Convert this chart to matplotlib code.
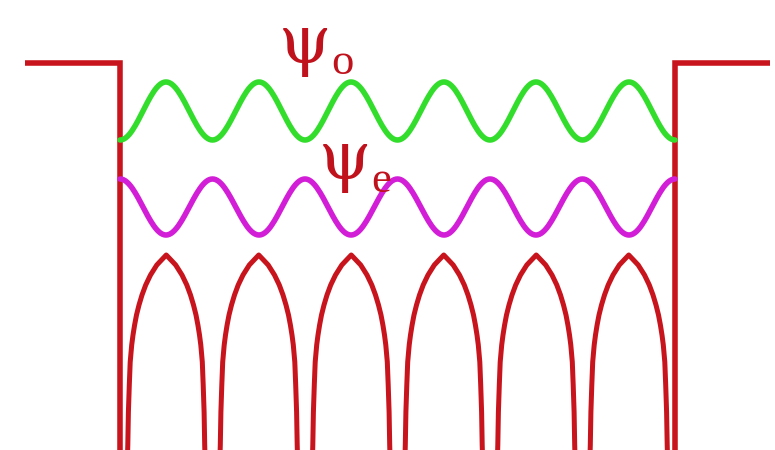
import numpy as np
import matplotlib
matplotlib.use("Agg")
import matplotlib.pyplot as plt

# ---- data (pixel-like units, y grows downward) ----
atom_x = [120, 212.5, 305, 397.5, 490, 582.5, 675]      # ion positions / well edges
barrier_left_x = [25, 120]
barrier_right_x = [675, 770]
barrier_y = 63
floor_y = 456

# odd wavefunction (green): extrema positions and values
psi_o_x = [120, 166, 212.5, 259, 305, 351, 397.5, 444, 490, 536, 582.5, 629, 675]
psi_o_y = [140, 82, 140, 82, 140, 82, 140, 82, 140, 82, 140, 82, 140]
# even wavefunction (magenta)
psi_e_x = [120, 166, 212.5, 259, 305, 351, 397.5, 444, 490, 536, 582.5, 629, 675]
psi_e_y = [179, 235, 179, 235, 179, 235, 179, 235, 179, 235, 179, 235, 179]

# periodic potential: profile of one arch side (distance from ion -> level)
arch_dist = [7.5, 7.8, 8.4, 9.3, 10.2, 11.7, 13.0, 14.6, 16.5, 19.0, 22.0, 25.7, 30.5, 36.8, 41.5]
arch_y = [456, 445, 412, 385, 362, 345, 335, 325, 315, 305, 295, 285, 275, 265, 260]
arch_peak_y = 255

labels = ["ψ", "ψ"]
subs = ["o", "e"]
label_pos = [(305, 44), (345, 160)]
sub_y = [63, 181]

RED = "#c8141c"
TXT = "#c0121c"
GREEN = "#33dd2c"
MAGENTA = "#d21ed6"
BG = "#fdf5fb"

fig = plt.figure(figsize=(7.75, 4.5), dpi=100, facecolor="white")
ax = fig.add_axes([8 / 775, 0, (770 - 8) / 775, 445 / 450], facecolor=BG)
ax.set_xlim(8, 770)
ax.set_ylim(450, 5)
ax.axis("off")
ax.patch.set_visible(True)
ax.set_xticks([]); ax.set_yticks([])


def eased(xs, ys, n=30):
    X, Y = [], []
    for i in range(len(xs) - 1):
        t = np.linspace(0, 1, n, endpoint=False)
        X.append(xs[i] + (xs[i + 1] - xs[i]) * t)
        Y.append(ys[i] + (ys[i + 1] - ys[i]) * (1 - np.cos(np.pi * t)) / 2)
    X.append([xs[-1]]); Y.append([ys[-1]])
    return np.concatenate(X), np.concatenate(Y)


lw_red = 4.0
# well barriers
ax.plot([barrier_left_x[0], barrier_left_x[1], barrier_left_x[1]],
        [barrier_y, barrier_y, floor_y], color=RED, lw=lw_red,
        solid_joinstyle="miter", solid_capstyle="butt")
ax.plot([barrier_right_x[0], barrier_right_x[0], barrier_right_x[1]],
        [floor_y, barrier_y, barrier_y], color=RED, lw=lw_red,
        solid_joinstyle="miter", solid_capstyle="butt")

# periodic potential arches
d = np.array(arch_dist)
ya = np.array(arch_y)
for a0, a1 in zip(atom_x[:-1], atom_x[1:]):
    mid = (a0 + a1) / 2
    xs = np.concatenate([a0 + d, [mid], (a1 - d)[::-1]])
    ys = np.concatenate([ya, [arch_peak_y], ya[::-1]])
    ax.plot(xs, ys, color=RED, lw=3.6, solid_joinstyle="round")

# wavefunctions
gx, gy = eased(psi_o_x, psi_o_y)
ax.plot(gx, gy, color=GREEN, lw=4.0, solid_capstyle="round")
mx, my = eased(psi_e_x, psi_e_y)
ax.plot(mx, my, color=MAGENTA, lw=4.0, solid_capstyle="round")

# labels: main symbol, then subscript placed just right of its box
renderer = fig.canvas.get_renderer()
for lab, sub, (lx, ly), sy in zip(labels, subs, label_pos, sub_y):
    t = ax.text(lx, ly, lab, fontsize=48, ha="center", va="center", zorder=5,
                family=["DejaVu Serif"], color=TXT)
    bb = t.get_window_extent(renderer).transformed(ax.transData.inverted())
    right = max(bb.x0, bb.x1)
    ax.text(right + 0.3, sy, sub, fontsize=32, ha="left", va="center", zorder=5,
            family=["Liberation Serif", "DejaVu Serif"], color=TXT)

fig.savefig("out.png", dpi=100, facecolor="white")
